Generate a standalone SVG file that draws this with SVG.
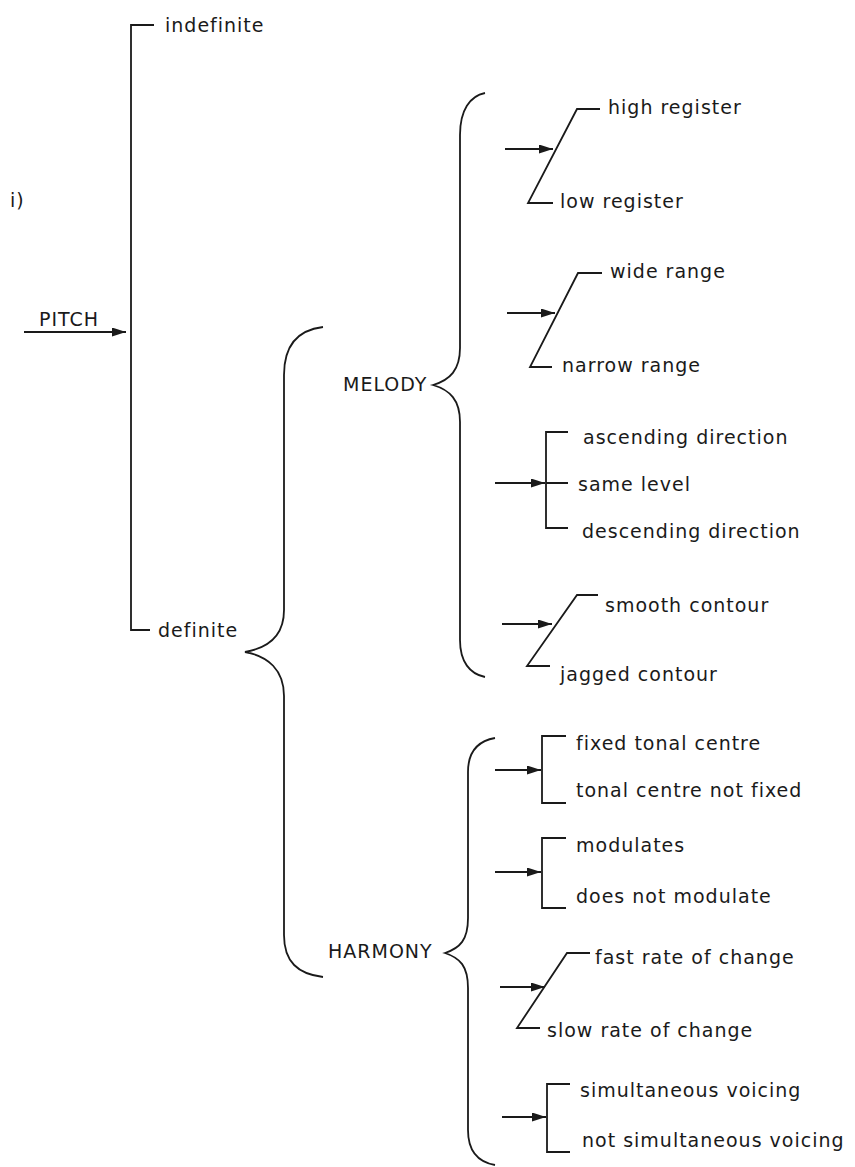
<svg xmlns="http://www.w3.org/2000/svg" width="855" height="1167" viewBox="0 0 855 1167">
<defs>
<style>
text{font-family:"DejaVu Sans","Liberation Sans",sans-serif;font-size:19px;letter-spacing:1px;fill:#1a1a1a}
.ln{fill:none;stroke:#1a1a1a;stroke-width:1.8}
.ar{fill:none;stroke:#1a1a1a;stroke-width:1.8;marker-end:url(#ah)}
</style>
<marker id="ah" viewBox="0 0 14 9" refX="14" refY="4.5" markerWidth="14" markerHeight="9" markerUnits="userSpaceOnUse" orient="auto">
<path d="M0,0 L14,4.5 L0,9 Z" fill="#1a1a1a"/>
</marker>
</defs>
<rect width="855" height="1167" fill="#fff"/>
<g id="connectors">
<path class="ar" d="M24,332 H126"/>
<path class="ln" d="M154,25 H131 V630 H150"/>
<path class="ln" d="M323,327 C298,330 284,345 284,375 L284,610 C284,636 268,648 245,652 C268,656 284,670 284,696 L284,935 C284,962 298,974 323,977"/>
<path class="ln" d="M485,93 C470,96 460,110 460,135 L460,348 C460,370 450,380 433,385 C450,390 460,400 460,422 L460,640 C460,662 470,674 485,677"/>
<path class="ln" d="M495,738 C478,741 468,752 468,772 L468,918 C468,940 460,948 445,953 C460,958 468,966 468,988 L468,1130 C468,1152 478,1162 495,1165"/>
<path class="ar" d="M505,149 H553"/>
<path class="ln" d="M600,109 H577 L528,203 H553"/>
<path class="ar" d="M507,313 H555"/>
<path class="ln" d="M602,273 H578 L530,367 H552"/>
<path class="ar" d="M495,483 H545"/>
<path class="ln" d="M568,432 H546 V528 H568 M546,483 H568"/>
<path class="ar" d="M502,624 H552"/>
<path class="ln" d="M598,595 H577 L527,666 H550"/>
<path class="ar" d="M495,770 H541"/>
<path class="ln" d="M566,736 H542 V803 H566"/>
<path class="ar" d="M495,872 H541"/>
<path class="ln" d="M566,838 H542 V908 H566"/>
<path class="ar" d="M500,987 H545"/>
<path class="ln" d="M590,953 H567 L517,1028 H540"/>
<path class="ar" d="M502,1117 H546"/>
<path class="ln" d="M570,1084 H547 V1152 H570"/>
</g>
<g id="label-i"><text x="10" y="207">i)</text></g>
<g id="node-pitch"><text x="39" y="326">PITCH</text></g>
<g id="node-indefinite"><text x="165" y="32">indefinite</text></g>
<g id="node-definite"><text x="158" y="637">definite</text></g>
<g id="node-melody"><text x="343" y="391">MELODY</text></g>
<g id="node-harmony"><text x="328" y="958">HARMONY</text></g>
<g id="node-high-register"><text x="608" y="114">high register</text></g>
<g id="node-low-register"><text x="560" y="208">low register</text></g>
<g id="node-wide-range"><text x="610" y="278">wide range</text></g>
<g id="node-narrow-range"><text x="562" y="372">narrow range</text></g>
<g id="node-ascending"><text x="583" y="444">ascending direction</text></g>
<g id="node-same-level"><text x="578" y="491">same level</text></g>
<g id="node-descending"><text x="582" y="538">descending direction</text></g>
<g id="node-smooth"><text x="605" y="612">smooth contour</text></g>
<g id="node-jagged"><text x="560" y="681">jagged contour</text></g>
<g id="node-fixed"><text x="576" y="750">fixed tonal centre</text></g>
<g id="node-not-fixed"><text x="576" y="797">tonal centre not fixed</text></g>
<g id="node-modulates"><text x="576" y="852">modulates</text></g>
<g id="node-not-modulate"><text x="576" y="903">does not modulate</text></g>
<g id="node-fast"><text x="595" y="964">fast rate of change</text></g>
<g id="node-slow"><text x="547" y="1037">slow rate of change</text></g>
<g id="node-simultaneous"><text x="580" y="1097">simultaneous voicing</text></g>
<g id="node-not-simultaneous"><text x="582" y="1147">not simultaneous voicing</text></g>
</svg>
